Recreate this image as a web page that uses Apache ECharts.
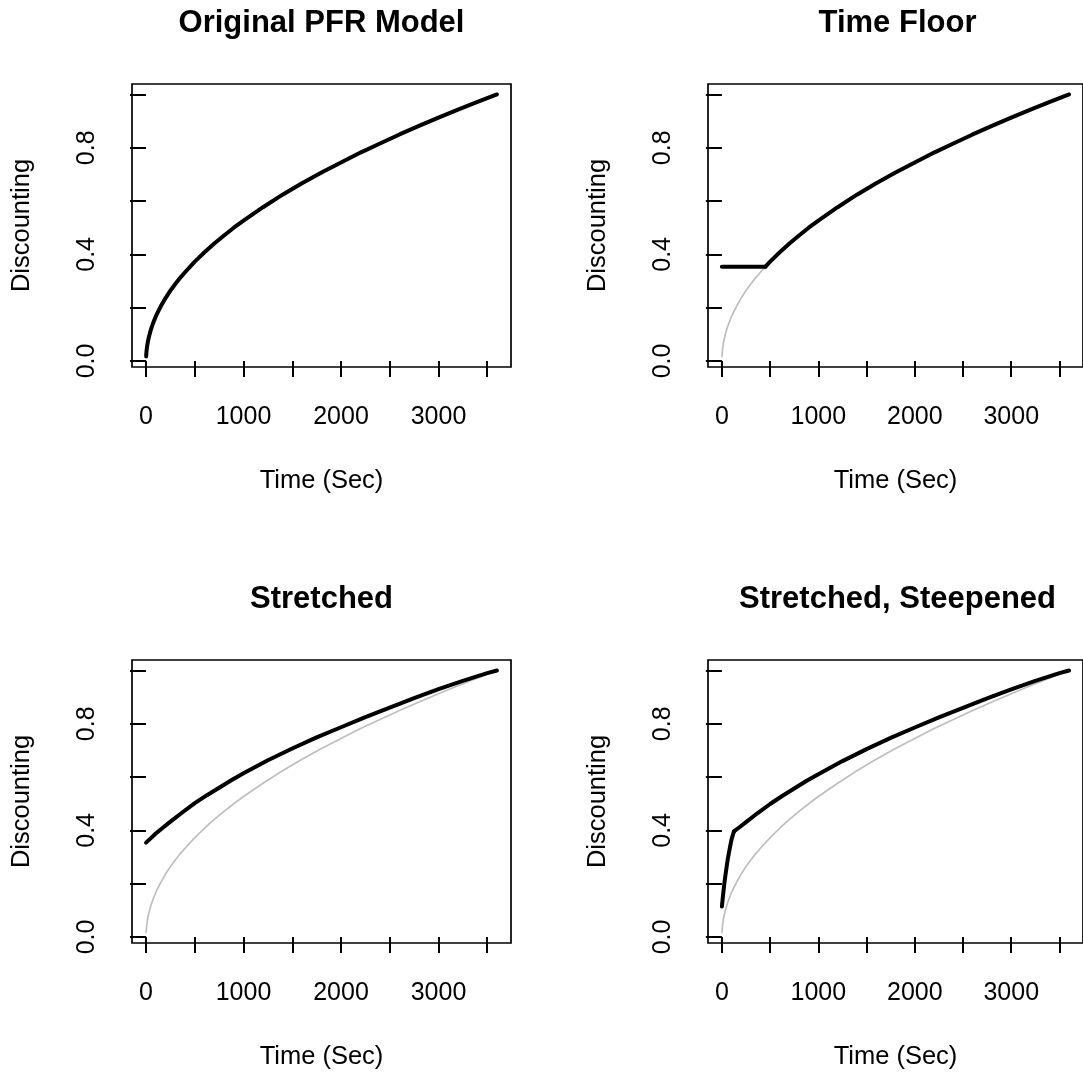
<!DOCTYPE html>
<html>
<head>
<meta charset="utf-8">
<script src="https://cdn.jsdelivr.net/npm/echarts@6/dist/echarts.min.js"></script>
<style>
html,body{margin:0;padding:0;background:#fff;}
#chart{width:1083px;height:1074px;}
</style>
</head>
<body>
<div id="chart"></div>
<script>
// ---- data ----
const panelTitles = ['Original PFR Model', 'Time Floor', 'Stretched', 'Stretched, Steepened'];
const xTicks = [0, 500, 1000, 1500, 2000, 2500, 3000, 3500];
const xTickLabels = [0, 1000, 2000, 3000];
const yTicks = [0, 0.2, 0.4, 0.6, 0.8, 1.0];
const yTickLabels = [0, 0.4, 0.8];

// original PFR curve
const originalTimes  = [1, 5, 10, 20, 30, 45, 60, 80, 100, 125, 150, 200, 250, 300, 350, 400, 500, 600, 700, 800, 900, 1000, 1200, 1400, 1600, 1800, 2000, 2200, 2400, 2600, 2800, 3000, 3200, 3400, 3600];
const originalValues = [0.017, 0.037, 0.053, 0.075, 0.091, 0.112, 0.129, 0.149, 0.167, 0.186, 0.204, 0.236, 0.264, 0.289, 0.312, 0.333, 0.373, 0.408, 0.441, 0.471, 0.5, 0.527, 0.577, 0.624, 0.667, 0.707, 0.745, 0.782, 0.816, 0.85, 0.882, 0.913, 0.943, 0.972, 1.0];

// time floor: flat part, then the original curve
const floorFlatTimes  = [0, 452];
const floorFlatValues = [0.354, 0.354];
const floorCurveTimes  = [452, 500, 600, 700, 800, 900, 1000, 1200, 1400, 1600, 1800, 2000, 2200, 2400, 2600, 2800, 3000, 3200, 3400, 3600];
const floorCurveValues = [0.354, 0.373, 0.408, 0.441, 0.471, 0.5, 0.527, 0.577, 0.624, 0.667, 0.707, 0.745, 0.782, 0.816, 0.85, 0.882, 0.913, 0.943, 0.972, 1.0];

// stretched
const stretchedTimes  = [0, 50, 100, 175, 250, 375, 500, 625, 750, 875, 1000, 1250, 1500, 1750, 2000, 2250, 2500, 2750, 3000, 3250, 3500, 3600];
const stretchedValues = [0.354, 0.371, 0.388, 0.411, 0.433, 0.468, 0.502, 0.532, 0.56, 0.588, 0.614, 0.663, 0.707, 0.749, 0.787, 0.825, 0.861, 0.896, 0.93, 0.961, 0.99, 1.0];

// stretched, steepened: steep start, then the stretched shape
const steepTimes  = [0, 10, 25, 40, 60, 80, 100, 125];
const steepValues = [0.114, 0.15, 0.2, 0.24, 0.29, 0.33, 0.366, 0.396];
const steepRestTimes  = [125, 175, 250, 375, 500, 625, 750, 875, 1000, 1250, 1500, 1750, 2000, 2250, 2500, 2750, 3000, 3250, 3500, 3600];
const steepRestValues = [0.396, 0.41, 0.431, 0.466, 0.499, 0.529, 0.557, 0.585, 0.611, 0.66, 0.705, 0.747, 0.786, 0.824, 0.86, 0.895, 0.929, 0.961, 0.99, 1.0];

// ---- build chart ----
const FONT = 'Liberation Sans, Arial, Helvetica, sans-serif';
const pairs = (t, v) => t.map((x, i) => [x, v[i]]);

const grids = [
  {left: 132, top: 84, width: 379, height: 283},
  {left: 708, top: 84, width: 379, height: 283},
  {left: 132, top: 660, width: 379, height: 283},
  {left: 708, top: 660, width: 379, height: 283}
];

const chart = echarts.init(document.getElementById('chart'), null, {renderer: 'canvas'});

const option = {
  backgroundColor: '#ffffff',
  animation: false,
  title: grids.map((g, i) => ({
    text: panelTitles[i],
    left: g.left + g.width / 2,
    top: g.top - 76,
    textAlign: 'center',
    padding: 0,
    textStyle: {fontFamily: FONT, fontWeight: 'bold', fontSize: 31, color: '#000'}
  })),
  grid: grids.map(g => Object.assign({show: true, borderColor: '#000', borderWidth: 1.7, backgroundColor: 'transparent', containLabel: false}, g)),
  xAxis: grids.map((g, i) => ({
    type: 'value', gridIndex: i, min: -144, max: 3744,
    axisLine: {show: false},
    splitLine: {show: false},
    axisTick: {show: true, customValues: xTicks, length: 16, lineStyle: {color: '#000', width: 2}},
    axisLabel: {show: true, customValues: xTickLabels, margin: 50, fontSize: 25, color: '#000', fontFamily: FONT,
      verticalAlign: 'middle', formatter: v => String(v)},
    name: 'Time (Sec)', nameLocation: 'middle', nameGap: 114,
    nameTextStyle: {fontSize: 25.5, color: '#000', fontFamily: FONT, verticalAlign: 'middle'}
  })),
  yAxis: grids.map((g, i) => ({
    type: 'value', gridIndex: i, min: -0.0226, max: 1.0393,
    axisLine: {show: false},
    splitLine: {show: false},
    axisTick: {show: true, customValues: yTicks, length: 16, lineStyle: {color: '#000', width: 2}},
    axisLabel: {show: true, customValues: yTickLabels, rotate: 90, margin: 45, fontSize: 25, color: '#000', fontFamily: FONT,
      verticalAlign: 'middle', formatter: v => Number(v).toFixed(1)},
    name: 'Discounting', nameLocation: 'middle', nameGap: 110, nameRotate: 90,
    nameTextStyle: {fontSize: 25.5, color: '#000', fontFamily: FONT, verticalAlign: 'middle'}
  })),
  series: []
};

function line(idx, data, color, width, z) {
  return {
    type: 'line', xAxisIndex: idx, yAxisIndex: idx, data: data,
    showSymbol: false, symbol: 'none', smooth: false,
    lineStyle: {color: color, width: width, cap: 'round', join: 'round'},
    z: z, silent: true, clip: false
  };
}
const GRAY = '#bebebe';
option.series.push(line(0, pairs(originalTimes, originalValues), '#000', 4, 3));
option.series.push(line(1, pairs(originalTimes, originalValues), GRAY, 1.7, 2));
option.series.push(line(1, pairs(floorFlatTimes, floorFlatValues), '#000', 4, 3));
option.series.push(line(1, pairs(floorCurveTimes, floorCurveValues), '#000', 4, 3));
option.series.push(line(2, pairs(originalTimes, originalValues), GRAY, 1.7, 2));
option.series.push(line(2, pairs(stretchedTimes, stretchedValues), '#000', 4, 3));
option.series.push(line(3, pairs(originalTimes, originalValues), GRAY, 1.7, 2));
option.series.push(line(3, pairs(steepTimes, steepValues), '#000', 4, 3));
option.series.push(line(3, pairs(steepRestTimes, steepRestValues), '#000', 4, 3));

chart.setOption(option);
</script>
</body>
</html>
